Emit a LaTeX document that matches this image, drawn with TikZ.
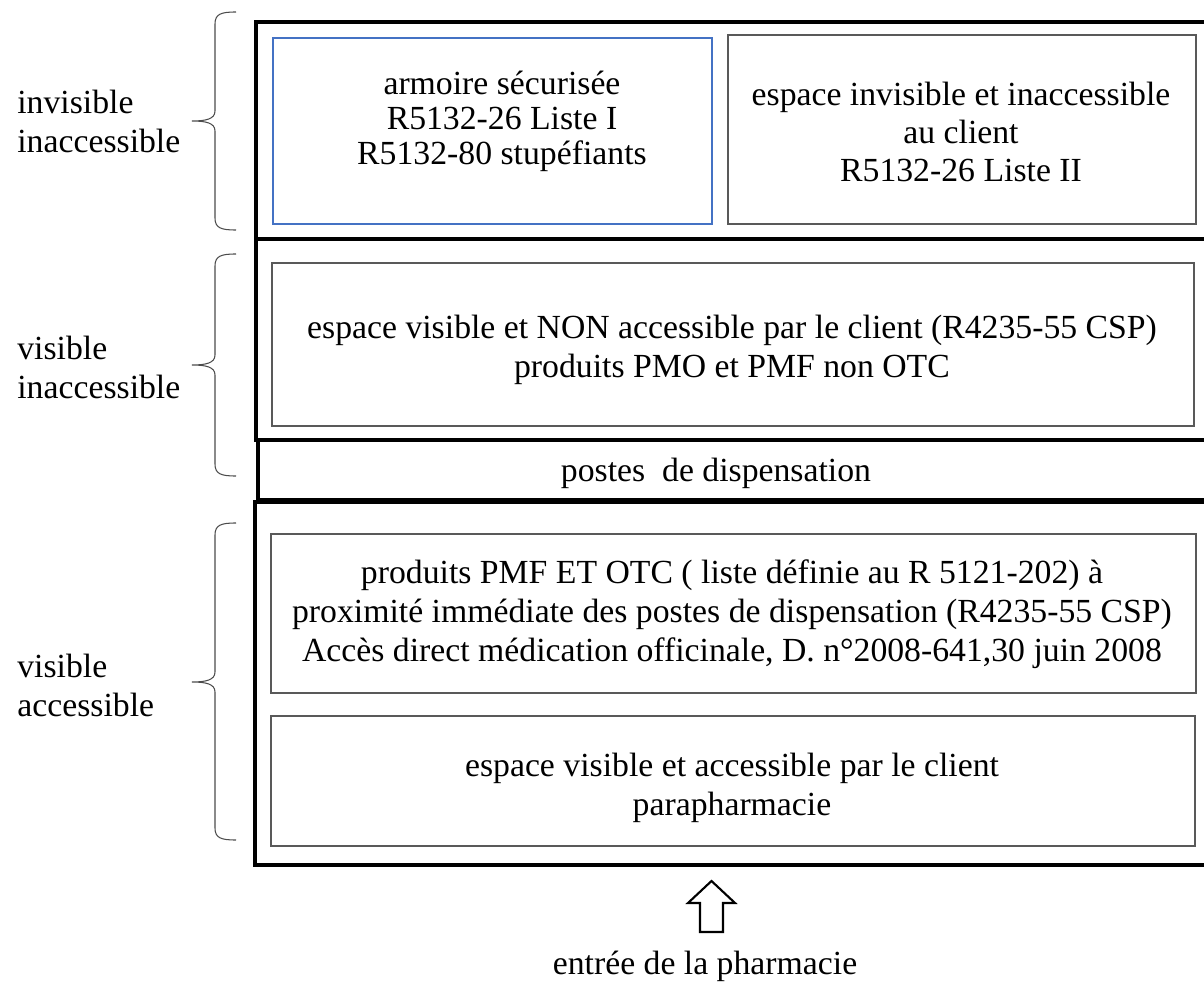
\documentclass[tikz,border=0pt]{standalone}
\usepackage{fontspec}
\setmainfont{Liberation Serif}
\usetikzlibrary{calc}

% curly brace on the left of each zone: top, tip, bottom
\newcommand{\zonebrace}[3]{%
  \draw[curly] (236,#1) .. controls (221,#1) and (215,#1+2) .. (215,#1+12)
    -- (215,#2-10) .. controls (215,#2-2) and (206,#2) .. (192,#2)
    .. controls (206,#2) and (215,#2+2) .. (215,#2+10)
    -- (215,#3-12) .. controls (215,#3-2) and (221,#3) .. (236,#3);}

\begin{document}
\begin{tikzpicture}[x=0.02cm, y=-0.02cm,
    every node/.style={font=\fontsize{19.2}{22.2}\selectfont, inner sep=0pt, align=center},
    zone/.style={draw=black, line width=1.9pt},
    area/.style={draw=black!65, line width=0.6pt},
    curly/.style={black!70, line width=0.6pt}]
  \useasboundingbox (0,0) rectangle (1204,983);

  % zones
  \draw[zone] (256,22) rectangle (1216,239);
  \draw[zone] (256,239) rectangle (1216,440);
  \draw[zone] (258,440) rectangle (1216,500);
  \draw[zone] (255,502) rectangle (1216,865);

  % storage areas
  \draw[area, draw={rgb,255:red,68;green,114;blue,196}] (273,38) rectangle (712,224);
  \draw[area] (728,35) rectangle (1196,224);
  \draw[area] (272,263) rectangle (1194,426);
  \draw[area] (271,534) rectangle (1196,693);
  \draw[area] (271,716) rectangle (1195,846);

  \node[font=\fontsize{19.2}{19.9}\selectfont] (armoire) at (502,121) {armoire sécurisée\\R5132-26 Liste I\\R5132-80 stupéfiants};
  \node[font=\fontsize{19.2}{21.4}\selectfont] (listeII) at (961,132) {espace invisible et inaccessible\\au client\\R5132-26 Liste II};
  \node (pmo) at (732,350) {espace visible et NON accessible par le client (R4235-55 CSP)\\produits PMO et PMF non OTC};
  \node (postes) at (716,473) {postes\ \ de dispensation};
  \node (otc) at (732,614) {produits PMF ET OTC ( liste définie au R 5121-202) à\\proximité immédiate des postes de dispensation (R4235-55 CSP)\\Accès direct médication officinale, D. n°2008-641,30 juin 2008};
  \node (para) at (732,788) {espace visible et accessible par le client\\parapharmacie};

  % left labels
  \zonebrace{12}{121}{230}
  \zonebrace{254}{365}{476}
  \zonebrace{523}{682}{840}
  \node[anchor=west, align=left] (invis) at (17,121) {invisible\\inaccessible};
  \node[anchor=west, align=left] (visin) at (17,367) {visible\\inaccessible};
  \node[anchor=west, align=left] (visac) at (17,685) {visible\\accessible};

  % entrance
  \draw[line width=1.2pt] (711.5,881) -- (735,903) -- (723,903) -- (723,932)
    -- (700,932) -- (700,903) -- (688,903) -- cycle;
  \node (entree) at (705,966) {entrée de la pharmacie};
\end{tikzpicture}
\end{document}
